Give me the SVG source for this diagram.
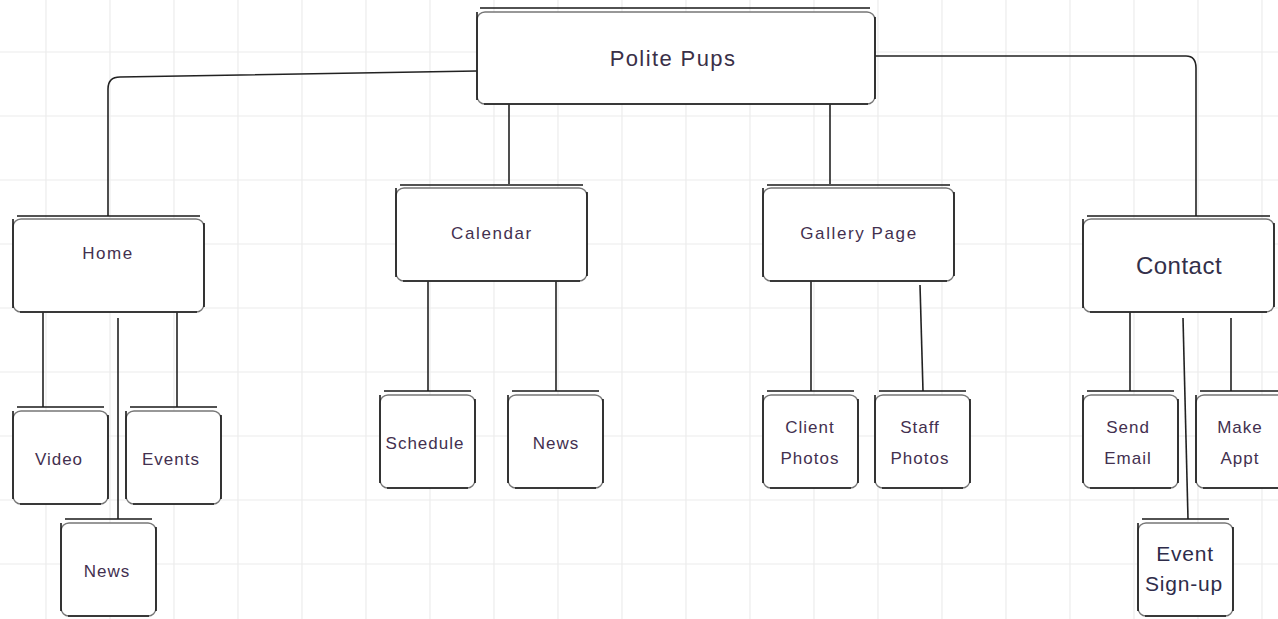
<svg xmlns="http://www.w3.org/2000/svg" xmlns:xlink="http://www.w3.org/1999/xlink" width="1278" height="619" viewBox="0 0 1278 619">
<style>
.grid line{stroke:#ececec;stroke-width:1.2}
.shell{fill:#fff;stroke:#777;stroke-width:1.4}
.edge{fill:none;stroke:#1a1a1a;stroke-width:1.6}
.conn path,.conn line{fill:none;stroke:#222;stroke-width:1.6}
text{font-family:"Liberation Sans",Arial,sans-serif;text-anchor:middle;fill:#43304f}
.t17{font-size:17px;letter-spacing:1.6px}
.t16{font-size:17px;letter-spacing:1px}
.t22{font-size:22px;letter-spacing:1.4px;fill:#3a3048}
.t24{font-size:24px;letter-spacing:0.5px;fill:#33304a}
.t21{font-size:21px;letter-spacing:0.8px;fill:#2e2c4a}
</style>
<defs>
<g id="frameTop">
<rect class="shell" x="0" y="0" width="398" height="92" rx="8"/>
<path class="edge" d="M3,-4 H393 M0,0 V88 M398,5 V87 M7,92 H391"/>
</g>
<g id="frameBig">
<rect class="shell" x="0" y="0" width="191" height="93" rx="8"/>
<path class="edge" d="M4,-3 H187 M0,0 V89 M191,4 V88 M7,93 H184"/>
</g>
<g id="frameSmall">
<rect class="shell" x="0" y="0" width="95" height="93" rx="8"/>
<path class="edge" d="M4,-4 H91 M0,0 V88 M95,4 V88 M7,93 H88"/>
</g>
</defs>
<rect width="1278" height="619" fill="#fff"/>
<g class="grid">
<line x1="46" y1="0" x2="46" y2="619"/><line x1="110" y1="0" x2="110" y2="619"/><line x1="174" y1="0" x2="174" y2="619"/><line x1="238" y1="0" x2="238" y2="619"/><line x1="302" y1="0" x2="302" y2="619"/><line x1="366" y1="0" x2="366" y2="619"/><line x1="430" y1="0" x2="430" y2="619"/><line x1="494" y1="0" x2="494" y2="619"/><line x1="558" y1="0" x2="558" y2="619"/><line x1="622" y1="0" x2="622" y2="619"/><line x1="686" y1="0" x2="686" y2="619"/><line x1="750" y1="0" x2="750" y2="619"/><line x1="814" y1="0" x2="814" y2="619"/><line x1="878" y1="0" x2="878" y2="619"/><line x1="942" y1="0" x2="942" y2="619"/><line x1="1006" y1="0" x2="1006" y2="619"/><line x1="1070" y1="0" x2="1070" y2="619"/><line x1="1134" y1="0" x2="1134" y2="619"/><line x1="1198" y1="0" x2="1198" y2="619"/><line x1="1262" y1="0" x2="1262" y2="619"/>
<line x1="0" y1="52" x2="1278" y2="52"/><line x1="0" y1="116" x2="1278" y2="116"/><line x1="0" y1="180" x2="1278" y2="180"/><line x1="0" y1="244" x2="1278" y2="244"/><line x1="0" y1="308" x2="1278" y2="308"/><line x1="0" y1="372" x2="1278" y2="372"/><line x1="0" y1="436" x2="1278" y2="436"/><line x1="0" y1="500" x2="1278" y2="500"/><line x1="0" y1="564" x2="1278" y2="564"/>
</g>
<g id="connectors" class="conn">
<path d="M477,71 L120,77 Q108,77 108,89 V216"/>
<path d="M509,104 V184"/>
<path d="M830,104 V184"/>
<path d="M875,56 H1186 Q1196,56 1196,68 V216"/>
<path d="M43,312 V407"/>
<path d="M118,318 V519"/>
<path d="M177,312 V407"/>
<path d="M428,280 V391"/>
<path d="M556,280 V391"/>
<path d="M811,280 V391"/>
<path d="M920,285 L923,391"/>
<path d="M1130,312 V391"/>
<path d="M1231,318 V391"/>
<path d="M1183,318 L1188,519"/>
</g>
<g id="node-polite-pups"><use xlink:href="#frameTop" x="477" y="12"/><text class="t22" x="673" y="66">Polite Pups</text></g>
<g id="node-home"><use xlink:href="#frameBig" x="13" y="219"/><text class="t17" x="108" y="259">Home</text></g>
<g id="node-calendar"><use xlink:href="#frameBig" x="396" y="188"/><text class="t17" x="492" y="239">Calendar</text></g>
<g id="node-gallery"><use xlink:href="#frameBig" x="763" y="188"/><text class="t17" x="859" y="239">Gallery Page</text></g>
<g id="node-contact"><use xlink:href="#frameBig" x="1083" y="219"/><text class="t24" x="1179" y="274">Contact</text></g>
<g id="node-video"><use xlink:href="#frameSmall" x="13" y="411"/><text class="t16" x="59" y="465">Video</text></g>
<g id="node-events"><use xlink:href="#frameSmall" x="126" y="411"/><text class="t16" x="171" y="465">Events</text></g>
<g id="node-news-home"><use xlink:href="#frameSmall" x="61" y="523"/><text class="t16" x="107" y="577">News</text></g>
<g id="node-schedule"><use xlink:href="#frameSmall" x="380" y="395"/><text class="t16" x="425" y="449">Schedule</text></g>
<g id="node-news-cal"><use xlink:href="#frameSmall" x="508" y="395"/><text class="t16" x="556" y="449">News</text></g>
<g id="node-client-photos"><use xlink:href="#frameSmall" x="763" y="395"/><text class="t16" x="810" y="433">Client</text><text class="t16" x="810" y="464">Photos</text></g>
<g id="node-staff-photos"><use xlink:href="#frameSmall" x="875" y="395"/><text class="t16" x="920" y="433">Staff</text><text class="t16" x="920" y="464">Photos</text></g>
<g id="node-send-email"><use xlink:href="#frameSmall" x="1083" y="395"/><text class="t16" x="1128" y="433">Send</text><text class="t16" x="1128" y="464">Email</text></g>
<g id="node-make-appt"><use xlink:href="#frameSmall" x="1196" y="395"/><text class="t16" x="1240" y="433">Make</text><text class="t16" x="1240" y="464">Appt</text></g>
<g id="node-event-signup"><use xlink:href="#frameSmall" x="1138" y="523"/><text class="t21" x="1185" y="561">Event</text><text class="t21" x="1184" y="591">Sign-up</text></g>
</svg>
